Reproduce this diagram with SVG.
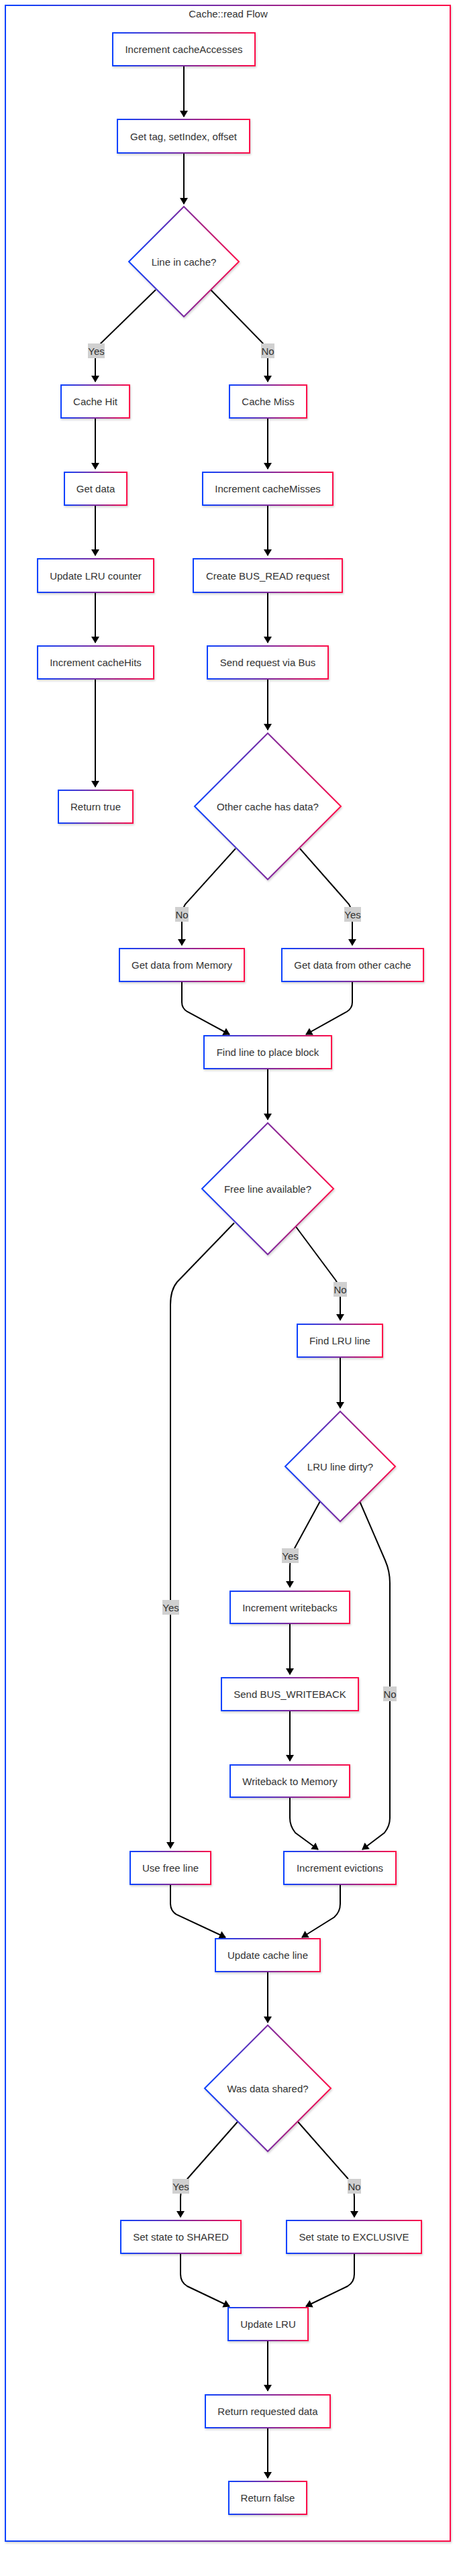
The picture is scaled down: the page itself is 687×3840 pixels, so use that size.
<svg xmlns="http://www.w3.org/2000/svg" width="687" height="3840" viewBox="0 0 687 3840">
<defs>
<linearGradient id="g" x1="0" y1="0" x2="1" y2="0">
<stop offset="0" stop-color="#0a42ff"/>
<stop offset="0.5" stop-color="#7d2aa0"/>
<stop offset="1" stop-color="#ff0a48"/>
</linearGradient>
<filter id="sh" x="-10%" y="-10%" width="130%" height="130%">
<feDropShadow dx="1" dy="2" stdDeviation="1.5" flood-color="#000" flood-opacity="0.18"/>
</filter>
<marker id="arr" markerUnits="userSpaceOnUse" markerWidth="12" markerHeight="12" viewBox="0 0 10 12" refX="9" refY="6" orient="auto">
<path d="M0,0 L10,6 L0,12 z" fill="#000"/>
</marker>
</defs>
<style>
.frame{fill:#fff;stroke:url(#g);stroke-width:2;filter:url(#sh)}
.node rect,.node polygon{fill:#fff;stroke:url(#g);stroke-width:2;filter:url(#sh)}
text{font-family:"Liberation Sans",Arial,sans-serif;font-size:15px;fill:#333;text-anchor:middle;dominant-baseline:central}
.edge{fill:none;stroke:#000;stroke-width:2;marker-end:url(#arr)}
.lbl rect{fill:#d0d0d0}
</style>
<rect width="687" height="3840" fill="#fff"/>
<g id="cluster">
<rect class="frame" x="8" y="8" width="663" height="3780"/>
<text x="340" y="20">Cache::read Flow</text>
</g>
<g id="connectors">
<path class="edge" d="M274,98 L274,174"/>
<path class="edge" d="M274,228 L274,304"/>
<path class="edge" d="M232,432 L150,512 Q142,523 142,535 L142,569"/>
<path class="edge" d="M314,432 L392,512 Q399,523 399,535 L399,569"/>
<path class="edge" d="M142,623 L142,699"/>
<path class="edge" d="M399,623 L399,699"/>
<path class="edge" d="M142,753 L142,828"/>
<path class="edge" d="M399,753 L399,828"/>
<path class="edge" d="M142,883 L142,958"/>
<path class="edge" d="M399,883 L399,958"/>
<path class="edge" d="M142,1012 L142,1173"/>
<path class="edge" d="M399,1012 L399,1088"/>
<path class="edge" d="M351,1265 L276,1348 Q271,1356 271,1370 L271,1409"/>
<path class="edge" d="M447,1265 L520,1348 Q525,1356 525,1370 L525,1409"/>
<path class="edge" d="M271,1463 L271,1494 Q271,1503 279,1508 L342,1542"/>
<path class="edge" d="M525,1463 L525,1494 Q525,1503 517,1508 L456,1542"/>
<path class="edge" d="M399,1593 L399,1669"/>
<path class="edge" d="M349,1823 L264,1911 Q254,1923 254,1945 L254,2755"/>
<path class="edge" d="M439,1826 L500,1908 Q507,1918 507,1930 L507,1968"/>
<path class="edge" d="M507,2023 L507,2099"/>
<path class="edge" d="M477,2238 L440,2306 Q432,2320 432,2335 L432,2366"/>
<path class="edge" d="M536,2238 L574,2326 Q581,2342 581,2360 L581,2710 Q581,2722 573,2732 L540,2757"/>
<path class="edge" d="M432,2420 L432,2496"/>
<path class="edge" d="M432,2550 L432,2625"/>
<path class="edge" d="M432,2679 L432,2710 Q432,2722 440,2732 L474,2757"/>
<path class="edge" d="M254,2809 L254,2838 Q254,2848 263,2854 L336,2888"/>
<path class="edge" d="M507,2809 L507,2838 Q507,2850 498,2858 L450,2888"/>
<path class="edge" d="M399,2939 L399,3015"/>
<path class="edge" d="M354,3163 L280,3247 Q269,3260 269,3275 L269,3305"/>
<path class="edge" d="M444,3163 L518,3247 Q528,3260 528,3275 L528,3305"/>
<path class="edge" d="M269,3359 L269,3390 Q269,3402 279,3408 L342,3438"/>
<path class="edge" d="M528,3359 L528,3390 Q528,3402 518,3408 L456,3438"/>
<path class="edge" d="M399,3489 L399,3564"/>
<path class="edge" d="M399,3619 L399,3694"/>
<g class="lbl"><rect x="131" y="512" width="25" height="22"/><text x="143.5" y="523">Yes</text></g>
<g class="lbl"><rect x="389" y="512" width="20" height="22"/><text x="399" y="523">No</text></g>
<g class="lbl"><rect x="261" y="1352" width="20" height="22"/><text x="271" y="1363">No</text></g>
<g class="lbl"><rect x="513" y="1352" width="25" height="22"/><text x="525.5" y="1363">Yes</text></g>
<g class="lbl"><rect x="497" y="1911" width="20" height="22"/><text x="507" y="1922">No</text></g>
<g class="lbl"><rect x="420" y="2308" width="25" height="22"/><text x="432.5" y="2319">Yes</text></g>
<g class="lbl"><rect x="242" y="2385" width="25" height="22"/><text x="254.5" y="2396">Yes</text></g>
<g class="lbl"><rect x="571" y="2514" width="20" height="22"/><text x="581" y="2525">No</text></g>
<g class="lbl"><rect x="257" y="3248" width="25" height="22"/><text x="269.5" y="3259">Yes</text></g>
<g class="lbl"><rect x="518" y="3248" width="20" height="22"/><text x="528" y="3259">No</text></g>
</g>
<g id="n1" class="node"><rect x="168" y="49" width="212" height="49"/><text x="274" y="73.5">Increment cacheAccesses</text></g>
<g id="n2" class="node"><rect x="175" y="178" width="197" height="50"/><text x="273.5" y="203">Get tag, setIndex, offset</text></g>
<g id="d1" class="node"><polygon points="274,308 356,390 274,472 192,390"/><text x="274" y="390">Line in cache?</text></g>
<g id="n3" class="node"><rect x="91" y="574" width="102" height="49"/><text x="142" y="598.5">Cache Hit</text></g>
<g id="n4" class="node"><rect x="342" y="574" width="115" height="49"/><text x="399.5" y="598.5">Cache Miss</text></g>
<g id="n5" class="node"><rect x="96" y="704" width="93" height="49"/><text x="142.5" y="728.5">Get data</text></g>
<g id="n6" class="node"><rect x="302" y="704" width="194" height="49"/><text x="399" y="728.5">Increment cacheMisses</text></g>
<g id="n7" class="node"><rect x="56" y="833" width="173" height="50"/><text x="142.5" y="858">Update LRU counter</text></g>
<g id="n8" class="node"><rect x="288" y="833" width="222" height="50"/><text x="399" y="858">Create BUS_READ request</text></g>
<g id="n9" class="node"><rect x="56" y="963" width="173" height="49"/><text x="142.5" y="987.5">Increment cacheHits</text></g>
<g id="n10" class="node"><rect x="309" y="963" width="180" height="49"/><text x="399" y="987.5">Send request via Bus</text></g>
<g id="n11" class="node"><rect x="87" y="1178" width="111" height="49"/><text x="142.5" y="1202.5">Return true</text></g>
<g id="d2" class="node"><polygon points="399,1093 508,1202 399,1311 290,1202"/><text x="399" y="1202">Other cache has data?</text></g>
<g id="n12" class="node"><rect x="178" y="1414" width="186" height="49"/><text x="271" y="1438.5">Get data from Memory</text></g>
<g id="n13" class="node"><rect x="420" y="1414" width="211" height="49"/><text x="525.5" y="1438.5">Get data from other cache</text></g>
<g id="n14" class="node"><rect x="304" y="1544" width="190" height="49"/><text x="399" y="1568.5">Find line to place block</text></g>
<g id="d3" class="node"><polygon points="399,1674 497,1772 399,1870 301,1772"/><text x="399" y="1772">Free line available?</text></g>
<g id="n15" class="node"><rect x="443" y="1974" width="127" height="49"/><text x="506.5" y="1998.5">Find LRU line</text></g>
<g id="d4" class="node"><polygon points="507,2104 589,2186 507,2268 425,2186"/><text x="507" y="2186">LRU line dirty?</text></g>
<g id="n16" class="node"><rect x="343" y="2372" width="178" height="48"/><text x="432" y="2396">Increment writebacks</text></g>
<g id="n17" class="node"><rect x="330" y="2501" width="204" height="49"/><text x="432" y="2525.5">Send BUS_WRITEBACK</text></g>
<g id="n18" class="node"><rect x="343" y="2631" width="178" height="48"/><text x="432" y="2655">Writeback to Memory</text></g>
<g id="n19" class="node"><rect x="194" y="2760" width="120" height="49"/><text x="254" y="2784.5">Use free line</text></g>
<g id="n20" class="node"><rect x="423" y="2760" width="167" height="49"/><text x="506.5" y="2784.5">Increment evictions</text></g>
<g id="n21" class="node"><rect x="321" y="2890" width="156" height="49"/><text x="399" y="2914.5">Update cache line</text></g>
<g id="d5" class="node"><polygon points="399,3019 493,3113 399,3207 305,3113"/><text x="399" y="3113">Was data shared?</text></g>
<g id="n22" class="node"><rect x="180" y="3310" width="179" height="49"/><text x="269.5" y="3334.5">Set state to SHARED</text></g>
<g id="n23" class="node"><rect x="427" y="3310" width="201" height="49"/><text x="527.5" y="3334.5">Set state to EXCLUSIVE</text></g>
<g id="n24" class="node"><rect x="340" y="3440" width="119" height="49"/><text x="399.5" y="3464.5">Update LRU</text></g>
<g id="n25" class="node"><rect x="306" y="3570" width="186" height="49"/><text x="399" y="3594.5">Return requested data</text></g>
<g id="n26" class="node"><rect x="341" y="3699" width="116" height="49"/><text x="399" y="3723.5">Return false</text></g>
</svg>
